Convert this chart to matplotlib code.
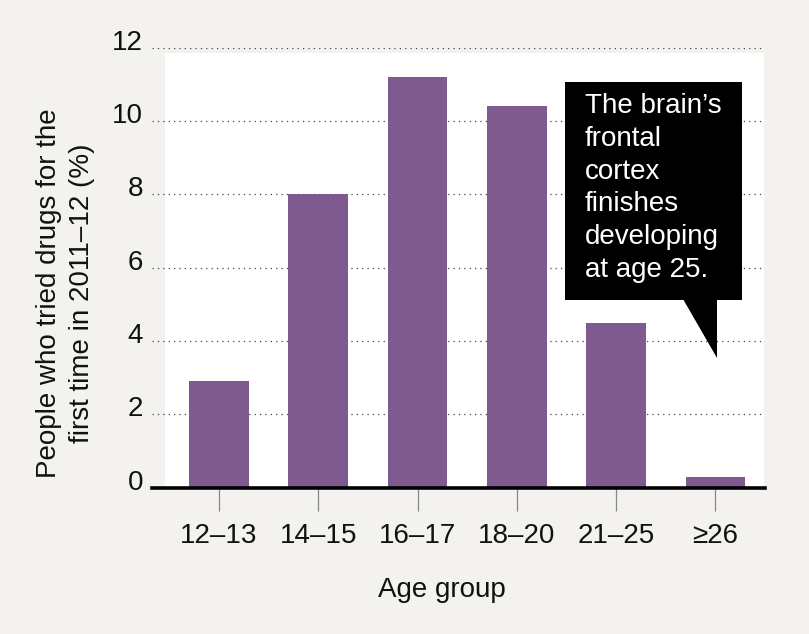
import matplotlib
matplotlib.use("Agg")
import matplotlib.pyplot as plt
from matplotlib.patches import Rectangle, Polygon
from matplotlib import transforms

# ---- data ----
age_groups = ["12–13", "14–15", "16–17", "18–20", "21–25", "≥26"]
pct_first_time = [2.9, 8.0, 11.2, 10.4, 4.5, 0.3]
y_ticks = [0, 2, 4, 6, 8, 10, 12]
callout_lines = ["The brain’s", "frontal", "cortex", "finishes", "developing", "at age 25."]
y_label = "People who tried drugs for the\nfirst time in 2011–12 (%)"
x_label = "Age group"

# ---- style ----
BG = "#f3f2ee"
BAR = "#7e5a8e"
FONT = ["Liberation Sans", "DejaVu Sans"]
plt.rcParams["font.family"] = FONT
FS = 20

W, H = 809, 634
fig = plt.figure(figsize=(W / 100, H / 100), dpi=100, facecolor=BG)


def fx(x):
    return x / W


def fy(y):
    return 1 - y / H


left, right, top, base = 152, 765, 47.7, 487.5
ax = fig.add_axes([fx(left), fy(base), (right - left) / W, (base - top) / H])
ax.set_facecolor(BG)
ax.set_xlim(-0.675, 5.5)
ax.set_ylim(0, 12)

# white panel
ax.add_patch(Rectangle((-0.544, 0), 5.49 + 0.544, 11.86, facecolor="white",
                       edgecolor="none", zorder=0))

# dotted gridlines
for v in y_ticks[1:]:
    ax.axhline(v, color="#444444", lw=0.9, linestyle=(0, (1, 3.3)), zorder=1)

x = list(range(len(age_groups)))
ax.bar(x, pct_first_time, width=0.6, color=BAR, zorder=2)

for s in ["left", "right", "top"]:
    ax.spines[s].set_visible(False)
ax.spines["bottom"].set_linewidth(2.6)
ax.spines["bottom"].set_color("black")
ax.spines["bottom"].set_zorder(3)

ax.set_xticks(x)
ax.set_xticklabels(age_groups, fontsize=FS, va="baseline", color="#111111")
ax.tick_params(axis="x", direction="out", length=16.5, width=0.9,
               color="#888888", pad=23.5)
ax.set_yticks([])

# y tick labels (baseline slightly below the dotted line)
off = transforms.ScaledTranslation(-9 / 100, -2 / 100, fig.dpi_scale_trans)
ytr = transforms.blended_transform_factory(ax.transAxes, ax.transData) + off
for v in y_ticks:
    ax.text(0, v, str(v), transform=ytr, ha="right", va="baseline",
            fontsize=FS, color="#111111")

# axis labels
fig.text(fx(66), fy(293), y_label, rotation=90, ha="center", va="center",
         multialignment="center", fontsize=FS, linespacing=1.35, color="#111111")
fig.text(fx(442), fy(597), x_label, ha="center", va="baseline",
         fontsize=FS, color="#111111")

# callout
bx0, bx1, by0, by1 = 565, 742, 82, 300
ax.add_patch(Rectangle((fx(bx0), fy(by1)), (bx1 - bx0) / W, (by1 - by0) / H,
                       transform=fig.transFigure, facecolor="black",
                       edgecolor="none", zorder=5, clip_on=False))
ax.add_patch(Polygon([(fx(683), fy(by1 - 1)), (fx(717), fy(by1 - 1)), (fx(717), fy(358))],
                     closed=True, transform=fig.transFigure, facecolor="black",
                     edgecolor="none", zorder=5, clip_on=False))
for i, line in enumerate(callout_lines):
    fig.text(fx(585), fy(113 + i * 32.8), line, ha="left", va="baseline",
             fontsize=FS, color="white", zorder=6)

fig.savefig("out.png", dpi=100, facecolor=BG)
